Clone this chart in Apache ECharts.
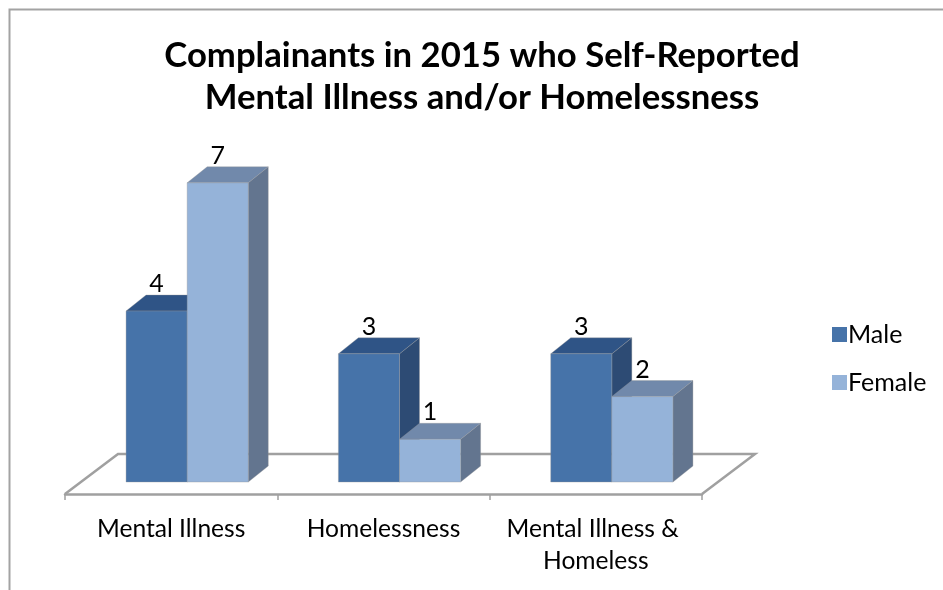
<!DOCTYPE html>
<html>
<head>
<meta charset="utf-8">
<title>Complainants in 2015</title>
<style>
  html, body { margin: 0; padding: 0; background: #fff; overflow: hidden; }
  #chart { width: 943px; height: 590px; }
</style>
<script src="https://cdn.jsdelivr.net/npm/echarts@6/dist/echarts.min.js"></script>
</head>
<body>
<div id="chart"></div>
<script>
const categories = ['Mental Illness', 'Homelessness', 'Mental Illness & Homeless'];
const maleValues = [4, 3, 3];
const femaleValues = [7, 1, 2];
const titleLines = ['Complainants in 2015 who Self-Reported', 'Mental Illness and/or Homelessness'];

const FONT = 'Lato, "Open Sans", sans-serif';

// Oblique projection used for the pseudo-3D floor and columns.
const FLOOR_DX = 53, FLOOR_DY = 40;   // full depth of the floor
const BAR_DX = 20, BAR_DY = 16;       // depth of one column
const INSET_DX = 16, INSET_DY = 12;   // front of the columns relative to the floor's front edge
const BAR_SHARE = 61 / 212;           // column width as a share of a category band

const maleColors = { front: '#4673a9', top: '#2f5486', side: '#2d4b74' };
const femaleColors = { front: '#95b3d9', top: '#7189ab', side: '#63758f' };

function poly(points, fill) {
  return {
    type: 'polygon',
    shape: { points },
    style: { fill, stroke: 'rgba(150,150,150,0.35)', lineWidth: 1 }
  };
}

// One column: front, top and side faces, with its value above it.
function columnRenderer(colors, slot) {
  return function (params, api) {
    const cat = api.value(0);
    const value = api.value(1);
    const center = api.coord([cat, 0]);
    const top = api.coord([cat, value]);
    const w = api.size([1, 0])[0] * BAR_SHARE;
    const x0 = center[0] + INSET_DX + slot * w;
    const x1 = x0 + w;
    const y0 = top[1];
    const y1 = center[1];
    return {
      type: 'group',
      children: [
        poly([[x1, y0], [x1 + BAR_DX, y0 - BAR_DY], [x1 + BAR_DX, y1 - BAR_DY], [x1, y1]], colors.side),
        poly([[x0, y0], [x0 + BAR_DX, y0 - BAR_DY], [x1 + BAR_DX, y0 - BAR_DY], [x1, y0]], colors.top),
        poly([[x0, y0], [x1, y0], [x1, y1], [x0, y1]], colors.front),
        {
          type: 'text',
          style: {
            text: String(value),
            x: (x0 + x1) / 2,
            y: y0 - 27,
            align: 'center',
            verticalAlign: 'middle',
            fill: '#000',
            font: '25px ' + FONT
          }
        }
      ]
    };
  };
}

// Floor outline behind the columns; the front edge is the category axis itself.
function floorRenderer(params) {
  const cs = params.coordSys;
  const left = cs.x, right = cs.x + cs.width, bottom = cs.y + cs.height;
  return {
    type: 'polyline',
    shape: {
      points: [
        [left, bottom],
        [left + FLOOR_DX, bottom - FLOOR_DY],
        [right + FLOOR_DX, bottom - FLOOR_DY],
        [right, bottom]
      ]
    },
    style: { fill: 'none', stroke: '#a0a0a0', lineWidth: 2.5 }
  };
}

const chart = echarts.init(document.getElementById('chart'), null, { renderer: 'canvas' });
chart.setOption({
  animation: false,
  backgroundColor: '#fff',
  title: {
    text: titleLines.join('\n'),
    left: 477,
    top: 30,
    textAlign: 'center',
    textStyle: { fontFamily: FONT, fontWeight: 'bold', fontSize: 34.7, lineHeight: 42, color: '#000' }
  },
  legend: {
    orient: 'vertical',
    left: 827,
    top: 317,
    itemWidth: 15,
    itemHeight: 15,
    itemGap: 23,
    icon: 'rect',
    data: ['Male', 'Female'],
    textStyle: { fontFamily: FONT, fontSize: 25, color: '#000', padding: [0, 0, 0, -4] }
  },
  grid: { left: 65, right: 241, top: 182.8, bottom: 96 },
  xAxis: {
    type: 'category',
    data: categories,
    axisLine: { onZero: false, lineStyle: { color: '#a0a0a0', width: 2.5 } },
    axisTick: { show: true, length: 6, lineStyle: { color: '#a0a0a0', width: 1.5 } },
    axisLabel: {
      interval: 0,
      margin: 19.5,
      width: 200,
      overflow: 'break',
      lineHeight: 32,
      fontFamily: FONT,
      fontSize: 24.6,
      color: '#000'
    }
  },
  yAxis: {
    type: 'value',
    min: -0.28,
    max: 7,
    show: false,
    splitLine: { show: false }
  },
  series: [
    {
      type: 'custom',
      name: 'Floor',
      renderItem: floorRenderer,
      data: [[0, 0]],
      encode: { x: 0, y: 1 },
      silent: true,
      z: 1
    },
    {
      type: 'custom',
      name: 'Male',
      renderItem: columnRenderer(maleColors, -1),
      data: maleValues.map((v, i) => [i, v]),
      encode: { x: 0, y: 1 },
      itemStyle: { color: maleColors.front },
      z: 2
    },
    {
      type: 'custom',
      name: 'Female',
      renderItem: columnRenderer(femaleColors, 0),
      data: femaleValues.map((v, i) => [i, v]),
      encode: { x: 0, y: 1 },
      itemStyle: { color: femaleColors.front },
      z: 3
    }
  ],
  graphic: [{
    type: 'rect',
    silent: true,
    z: -1,
    shape: { x: 9.5, y: 9.5, width: 1000, height: 700 },
    style: { fill: 'none', stroke: '#a3a3a3', lineWidth: 2 }
  }]
});
</script>
</body>
</html>
